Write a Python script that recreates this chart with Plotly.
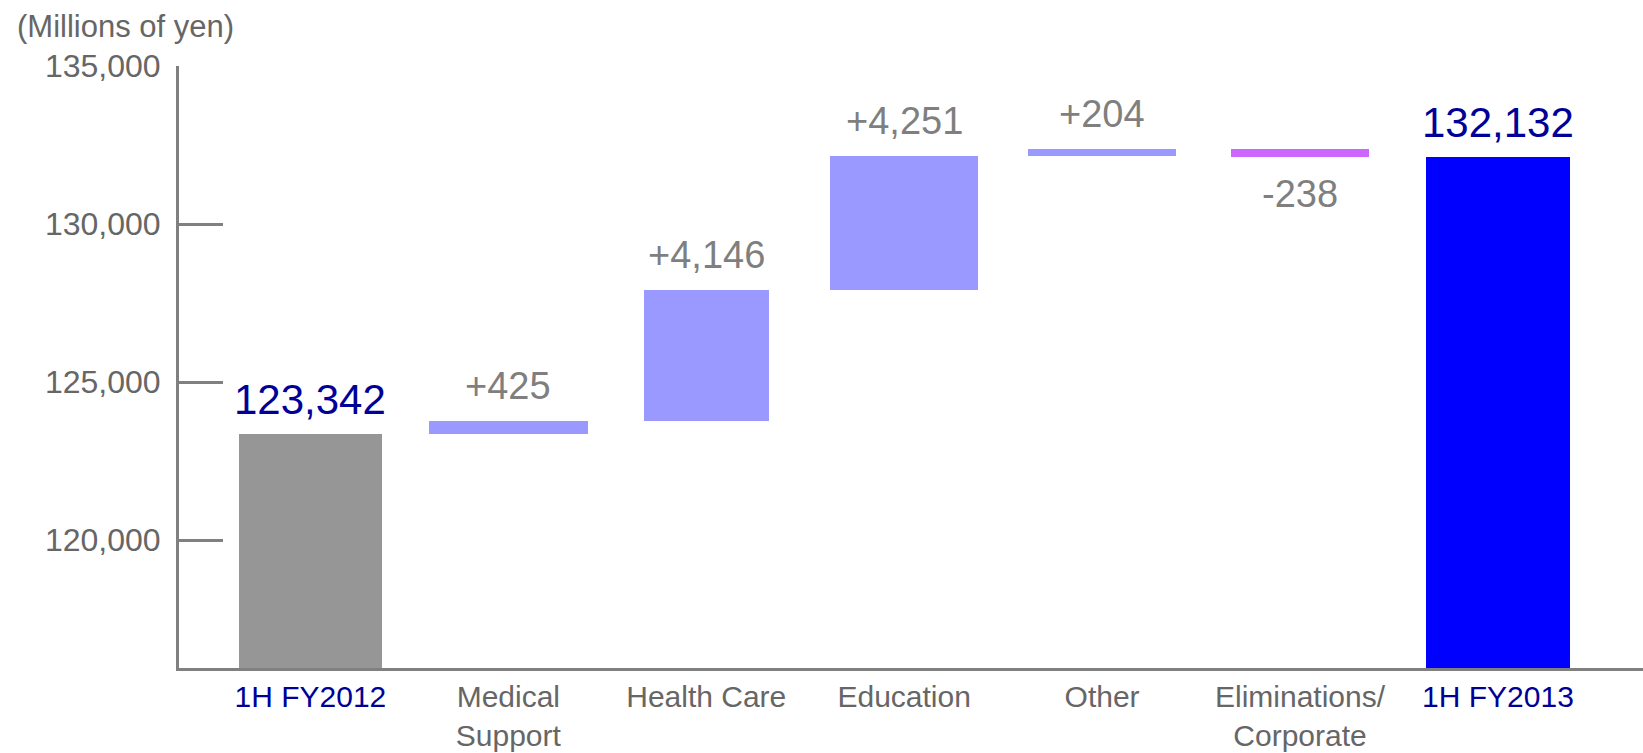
import plotly.graph_objects as go

# Net sales bridge, 1H FY2012 -> 1H FY2013 (millions of yen)
categories = ["1H FY2012", "Medical<br>Support", "Health Care", "Education",
              "Other", "Eliminations/<br>Corporate", "1H FY2013"]
start_total = 123342
segment_changes = [425, 4146, 4251, 204, -238]
end_total = 132132
y_ticks = [120000, 125000, 130000, 135000]

# styling
FONT = "Liberation Sans, Arial, Helvetica, sans-serif"
GREY_AXIS = "#808080"
GREY_TEXT = "#666666"
LABEL_GREY = "#7f7f7f"
DARK_BLUE = "#000099"
bar_widths = [0.72, 0.80, 0.63, 0.75, 0.75, 0.70, 0.73]

# running positions for the floating segment bars
bases = []
running = start_total
for change in segment_changes:
    bases.append(running)
    running += change

x_idx = list(range(len(categories)))

bar_y = [start_total] + segment_changes + [end_total]
bar_base = [0] + bases + [0]
bar_colors = (["#969696"]
              + ["#9999ff" if c >= 0 else "#cc66ff" for c in segment_changes]
              + ["#0000ff"])

fig = go.Figure()
fig.add_trace(go.Bar(
    x=x_idx, y=bar_y, base=bar_base, width=bar_widths,
    marker=dict(color=bar_colors, line=dict(width=0)),
    hoverinfo="skip", showlegend=False,
))

# value labels above (or below, for decreases) each bar
annotations = []
annotations.append(dict(x=0, y=start_total, text=f"{start_total:,}",
                        yanchor="bottom", yshift=9,
                        font=dict(size=42, color=DARK_BLUE, family=FONT)))
for i, (b, c) in enumerate(zip(bases, segment_changes), start=1):
    if c >= 0:
        annotations.append(dict(x=i, y=b + c, text=f"{c:+,}", yanchor="bottom",
                                yshift=12,
                                font=dict(size=38, color=LABEL_GREY, family=FONT)))
    else:
        annotations.append(dict(x=i, y=b + c, text=f"{c:+,}", yanchor="top",
                                yshift=-14,
                                font=dict(size=38, color=LABEL_GREY, family=FONT)))
annotations.append(dict(x=len(categories) - 1, y=end_total, text=f"{end_total:,}",
                        yanchor="bottom", yshift=9,
                        font=dict(size=42, color=DARK_BLUE, family=FONT)))
for a in annotations:
    a.update(xref="x", yref="y", showarrow=False, xanchor="center")

annotations.append(dict(xref="paper", yref="paper", x=-0.112, y=1.098,
                        xanchor="left", yanchor="top", showarrow=False,
                        text="(Millions of yen)",
                        font=dict(size=31, color=GREY_TEXT, family=FONT)))

tick_text = []
for i, c in enumerate(categories):
    col = DARK_BLUE if i in (0, len(categories) - 1) else GREY_TEXT
    tick_text.append(f'<span style="color:{col}">{c}</span>')

fig.update_layout(
    width=1643, height=753,
    margin=dict(l=179, r=0, t=66, b=85),
    paper_bgcolor="white", plot_bgcolor="white",
    font=dict(family=FONT),
    annotations=annotations,
    bargap=0,
    xaxis=dict(
        range=[-0.664, 6.733],
        tickmode="array", tickvals=x_idx, ticktext=tick_text,
        tickfont=dict(size=30, color=GREY_TEXT, family=FONT),
        showline=True, linecolor=GREY_AXIS, linewidth=3,
        showgrid=False, zeroline=False, ticks="",
        ticklabelstandoff=0, automargin=False,
    ),
    yaxis=dict(
        range=[115950, 135001],
        tickmode="array", tickvals=y_ticks,
        ticktext=[f"{v:,}" for v in y_ticks],
        tickfont=dict(size=32, color=GREY_TEXT, family=FONT),
        showline=True, linecolor=GREY_AXIS, linewidth=3,
        ticks="inside", ticklen=44, tickwidth=3, tickcolor=GREY_AXIS,
        showgrid=False, zeroline=False,
        ticklabelstandoff=9, automargin=False,
    ),
)
for tr in fig.data:
    tr.cliponaxis = False

fig.write_html("out.html")
